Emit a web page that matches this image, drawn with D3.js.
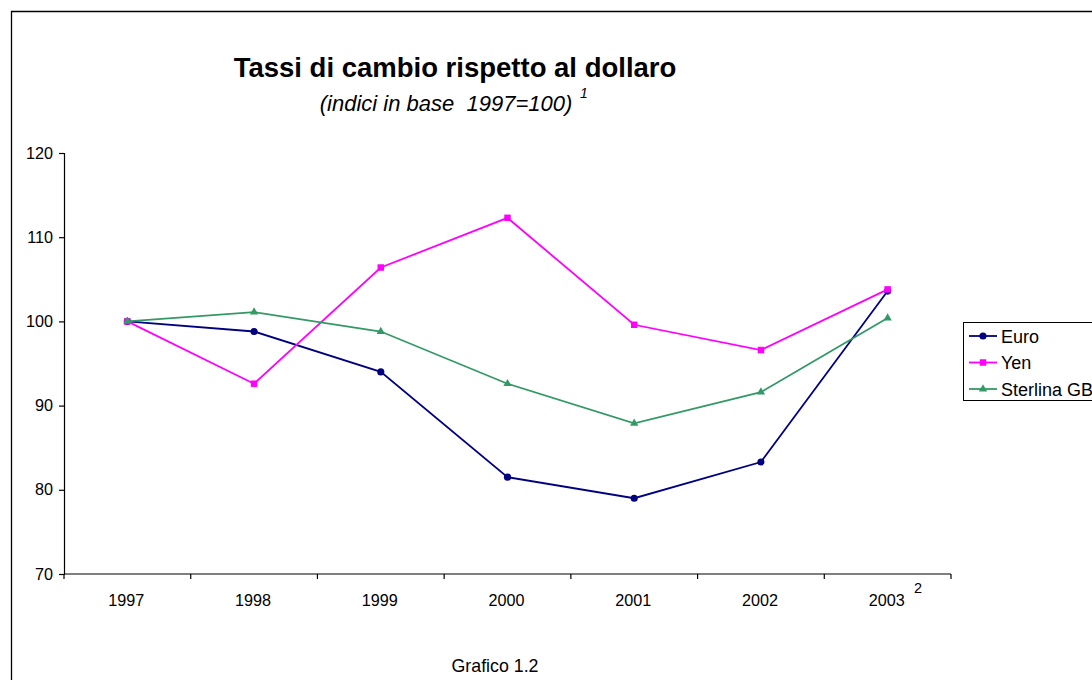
<!DOCTYPE html>
<html>
<head>
<meta charset="utf-8">
<script src="https://cdn.jsdelivr.net/npm/d3@7"></script>
<style>
  body { margin: 0; background: #fff; }
  svg { display: block; font-family: "Liberation Sans", Arial, sans-serif; }
</style>
</head>
<body>
<div id="chart"></div>
<script>
// data
const years = ["1997", "1998", "1999", "2000", "2001", "2002", "2003"];
const euro = [100, 98.8, 94.0, 81.5, 79.0, 83.3, 103.6];
const yen = [100, 92.6, 106.4, 112.3, 99.6, 96.6, 103.8];
const sterlina = [100, 101.1, 98.8, 92.6, 87.9, 91.6, 100.4];
const yTicks = [70, 80, 90, 100, 110, 120];

const series = [
    { name: "Euro", values: euro, color: "#000080", symbol: d3.symbolCircle, size: 40 },
    { name: "Yen", values: yen, color: "#ff00ff", symbol: d3.symbolSquare, size: 42 },
    { name: "Sterlina GB", values: sterlina, color: "#339966", symbol: d3.symbolTriangle, size: 30 }
];

const width = 1092;
const height = 680;
const plot = { left: 64, right: 951, top: 153, bottom: 574 };

const svg = d3.select("#chart").append("svg")
    .attr("width", width)
    .attr("height", height);

// outer frame (only top and left edges are visible)
svg.append("path")
    .attr("d", `M11.5,${height + 2}V11.5H${width + 2}`)
    .attr("fill", "none")
    .attr("stroke", "#000")
    .attr("stroke-width", 1.3);

// titles
svg.append("text")
    .attr("x", 455).attr("y", 77)
    .attr("text-anchor", "middle")
    .attr("font-size", 27.5)
    .attr("font-weight", "bold")
    .text("Tassi di cambio rispetto al dollaro");

svg.append("text")
    .attr("x", 446).attr("y", 111)
    .attr("text-anchor", "middle")
    .attr("font-size", 22)
    .attr("font-style", "italic")
    .attr("xml:space", "preserve")
    .text("(indici in base  1997=100)");
svg.append("text")
    .attr("x", 580).attr("y", 98)
    .attr("font-size", 14)
    .attr("font-style", "italic")
    .text("1");

// scales
const x = d3.scaleBand()
    .domain(years)
    .range([plot.left, plot.right]);

const y = d3.scaleLinear()
    .domain([70, 120])
    .range([plot.bottom, plot.top]);

// y axis
const yAxis = svg.append("g")
    .attr("transform", `translate(${plot.left},0)`)
    .call(d3.axisLeft(y).tickValues(yTicks).tickSize(5).tickPadding(6));
yAxis.selectAll("text").attr("font-size", 16.2).attr("font-family", "Liberation Sans, Arial, sans-serif").attr("fill", "#000");
yAxis.selectAll("line, path").attr("stroke", "#000").attr("stroke-width", 1.2);

// x axis, ticks at category boundaries
const xAxis = svg.append("g")
    .attr("transform", `translate(0,${plot.bottom})`);
xAxis.append("line")
    .attr("x1", plot.left).attr("x2", plot.right)
    .attr("stroke", "#000").attr("stroke-width", 1.2);
const bounds = years.map(d => x(d)).concat([x.range()[1]]);
xAxis.selectAll(".tick")
    .data(bounds)
    .join("line")
    .attr("x1", d => d).attr("x2", d => d)
    .attr("y1", 0).attr("y2", 5)
    .attr("stroke", "#000").attr("stroke-width", 1.2);
xAxis.selectAll(".lbl")
    .data(years)
    .join("text")
    .attr("x", d => x(d) + x.bandwidth() / 2 - 1)
    .attr("y", 32)
    .attr("text-anchor", "middle")
    .attr("font-size", 16.2)
    .text(d => d);

// footnote marker next to 2003
svg.append("text")
    .attr("x", 914).attr("y", 593)
    .attr("font-size", 14.5)
    .text("2");

// lines and markers
const cx = i => x(years[i]) + x.bandwidth() / 2;
const line = d3.line()
    .x((d, i) => cx(i))
    .y(d => y(d));

series.forEach(s => {
    svg.append("path")
        .datum(s.values)
        .attr("d", line)
        .attr("fill", "none")
        .attr("stroke", s.color)
        .attr("stroke-width", 1.8);
    svg.append("g").selectAll("path")
        .data(s.values)
        .join("path")
        .attr("transform", (d, i) => `translate(${cx(i)},${y(d)})`)
        .attr("d", d3.symbol().type(s.symbol).size(s.size))
        .attr("fill", s.color);
});

// legend
const legend = svg.append("g").attr("transform", "translate(963,322)");
legend.append("rect")
    .attr("x", 0.5).attr("y", 0.5)
    .attr("width", 140).attr("height", 78)
    .attr("fill", "#fff")
    .attr("stroke", "#000")
    .attr("stroke-width", 1);
series.forEach((s, i) => {
    const g = legend.append("g").attr("transform", `translate(0,${14 + i * 26.5})`);
    g.append("line")
        .attr("x1", 6).attr("x2", 34)
        .attr("stroke", s.color).attr("stroke-width", 1.8);
    g.append("path")
        .attr("transform", "translate(20,0)")
        .attr("d", d3.symbol().type(s.symbol).size(s.size))
        .attr("fill", s.color);
    g.append("text")
        .attr("x", 38).attr("y", 6.5)
        .attr("font-size", 18)
        .text(s.name);
});

// caption
svg.append("text")
    .attr("x", 495).attr("y", 672)
    .attr("text-anchor", "middle")
    .attr("font-size", 17.8)
    .text("Grafico 1.2");
</script>
</body>
</html>
